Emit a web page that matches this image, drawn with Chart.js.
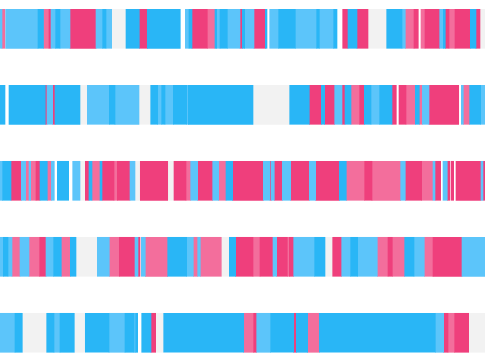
<!DOCTYPE html>
<html>
<head>
<meta charset="utf-8">
<script src="https://cdn.jsdelivr.net/npm/chart.js@4/dist/chart.umd.js"></script>
<style>
html, body { margin: 0; padding: 0; background: #fff; }
#wrap { width: 485px; height: 360px; }
</style>
</head>
<body>
<div id="wrap"><canvas id="myChart"></canvas></div>
<script>
// segment kinds: b blue, l light blue, p pink, r rose, g grey, _ gap
var kindKeys = ['b', 'l', 'p', 'r', 'g'];
var kindColors = ['#29b6f6', '#5cc5fa', '#ef3f7c', '#f36e9c', '#f2f2f2'];

// each row: where every segment ends, and its kind (grouped in fives)
var row1Ends = [2, 5, 5.7, 38, 43.5, 49, 51, 55.7, 60, 70, 96, 102.7, 106, 111.7, 126, 139.3, 147.3, 180.3, 185.3, 189, 192, 207.3, 215, 216.7, 220, 227.3, 240, 242.3, 244.7, 254, 265.3, 267, 269.7, 278.7, 295.3, 316.7, 319.3, 333.7, 337, 342.7, 348, 357, 368, 386.7, 402, 405.3, 414, 418.3, 421, 425, 439.7, 443.3, 445.3, 449, 455, 470.3, 476, 480, 485];
var row1Kinds = 'lr_lb rplbl plblg bpb_l bprbl blpbl pb_lb lblb_ pbpgb lrp_r plbpr pbpg';

var row2Ends = [5, 9, 45.3, 47, 52.7, 55, 80, 87.3, 109.3, 115, 139, 150.7, 157.7, 161.7, 165, 173.3, 186.7, 188.3, 253, 289.7, 309.3, 321.3, 324.7, 334.7, 342, 345, 351, 359.7, 364.3, 371, 379.7, 392, 396.3, 399, 406, 415.3, 419.3, 422.3, 429, 458.7, 461.3, 463.3, 469.7, 480.7, 485];
var row2Kinds = 'b_bpl pbglb lgblb lblbg bpbpl pbrpb lbp_p rbrlp _lrbl';

var row3Ends = [2.7, 11, 21.3, 25.7, 29, 30.7, 36, 40, 47.3, 51.3, 54.3, 57.3, 68.7, 72.7, 80, 85.3, 89, 92, 100, 102, 114, 117.3, 130, 135, 140.3, 167.7, 174, 186, 190.7, 197.7, 212.7, 218.7, 226, 232.7, 263.3, 270, 271.3, 274.3, 282.3, 290.7, 309.3, 315.7, 339.3, 346.3, 364.7, 372, 400.7, 405.3, 421.7, 433, 435, 440.7, 443, 447.3, 450, 451.3, 453.7, 456, 481, 483, 485];
var row3Kinds = 'lbplr lrpbr l_b_l gpbrb prplg pgprl plrbp lplpl plpbr prlpr lp_lp _p_pl p';

var row4Ends = [3.3, 8, 12, 20, 29, 39.7, 46, 53.7, 61.3, 70.3, 76, 97.3, 109.3, 119.3, 135, 138, 140, 141.3, 145.3, 167.7, 186.7, 193.3, 197.7, 200.3, 221.3, 229.3, 235.7, 253, 260, 273, 276.7, 287.3, 289.3, 293.7, 314.7, 325, 332.7, 341.7, 350.7, 357.7, 377.3, 388, 392.3, 404.7, 414, 424.3, 433, 462, 485];
var row4Kinds = 'lblrl rplbr bglrp lp_lr blrlr gbprp lprpl bgplb lrprb lrpl';

var row5Ends = [15, 22.3, 46.7, 54, 60, 74.3, 85.3, 109, 125, 134, 135.7, 137.7, 141.7, 151, 155.7, 163.7, 243.7, 253.7, 256.7, 270.7, 293.7, 296.3, 307.7, 319.3, 435.3, 443.7, 448, 454.7, 468.7, 485];
var row5Kinds = 'lbgbl bgblb lb_bp gbrpl bpbrb lprpg';

var rowEnds = [row1Ends, row2Ends, row3Ends, row4Ends, row5Ends];
var rowKinds = [row1Kinds, row2Kinds, row3Kinds, row4Kinds, row5Kinds].map(function (s) {
    return s.replace(/ /g, '');
});

var datasets = kindKeys.map(function (key, k) {
    var points = [];
    rowEnds.forEach(function (ends, row) {
        ends.forEach(function (end, i) {
            if (rowKinds[row][i] === key) {
                points.push({ x: [i ? ends[i - 1] : 0, end], y: row });
            }
        });
    });
    return { label: key, data: points, backgroundColor: kindColors[k], borderWidth: 0, barThickness: 39, grouped: false };
});

var ctx = document.getElementById('myChart').getContext('2d');
new Chart(ctx, {
    type: 'bar',
    data: { datasets: datasets },
    options: {
        indexAxis: 'y',
        responsive: true,
        maintainAspectRatio: false,
        animation: false,
        layout: { padding: 0 },
        plugins: { legend: { display: false }, tooltip: { enabled: false } },
        scales: {
            x: { type: 'linear', min: 0, max: 485, display: false },
            y: { type: 'linear', min: -0.379, max: 4.358, offset: false, reverse: true, display: false }
        }
    }
});
</script>
</body>
</html>
